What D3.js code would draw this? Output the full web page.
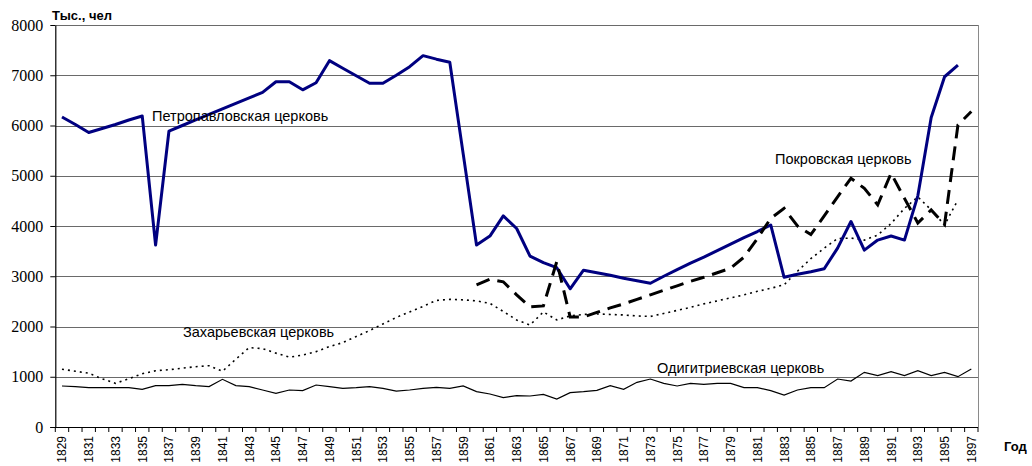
<!DOCTYPE html>
<html><head><meta charset="utf-8">
<script src="https://cdn.jsdelivr.net/npm/d3@7"></script>
<style>body{margin:0;background:#fff}svg{display:block}</style>
</head><body>
<svg id="c" width="1032" height="466"></svg>
<script>
const years = d3.range(1829, 1898);
const yTicks = [0,1000,2000,3000,4000,5000,6000,7000,8000];
const xTickLabels = years.filter(y => (y - 1829) % 2 === 0);

const petropavlovsk = [6170,6020,5860,5940,6020,6110,6190,3620,5890,6000,6110,6220,6330,6440,6550,6660,6870,6870,6710,6850,7290,7140,6990,6840,6840,7000,7170,7390,7320,7260,5440,3620,3800,4200,3950,3400,3270,3170,2750,3120,3070,3020,2960,2910,2860,3000,3130,3260,3380,3510,3640,3770,3890,4020,2980,3040,3090,3150,3560,4090,3520,3720,3800,3720,4600,6160,6970,7200,null];
const pokrovsk = [null,null,null,null,null,null,null,null,null,null,null,null,null,null,null,null,null,null,null,null,null,null,null,null,null,null,null,null,null,null,null,2830,2940,2890,2630,2390,2410,3290,2190,2190,2280,2370,2450,2540,2630,2720,2810,2900,2980,3070,3160,3380,3750,4150,4350,4000,3830,4200,4580,4950,4750,4420,5050,4550,4060,4320,4030,6010,6280];
const zakharievsk = [1150,1110,1070,960,870,960,1060,1120,1140,1170,1200,1220,1110,1350,1580,1560,1470,1390,1430,1500,1600,1680,1800,1920,2050,2180,2290,2400,2520,2540,2530,2510,2460,2300,2130,2030,2290,2130,2210,2240,2250,2240,2230,2210,2200,2260,2320,2380,2450,2510,2570,2630,2700,2760,2830,3100,3350,3560,3750,3760,3720,3820,4050,4350,4580,4320,4020,4520,null];
const odigitrievsk = [816,803,783,783,783,783,750,823,823,849,823,803,949,823,803,736,670,736,723,836,803,769,783,803,769,716,736,769,789,769,816,703,657,584,624,617,650,557,683,703,730,823,750,889,955,869,816,869,849,869,869,783,783,723,637,736,783,783,955,915,1088,1022,1101,1022,1121,1022,1088,1002,1154];

const seriesLabels = ["Петропавловская церковь","Покровская церковь","Захарьевская церковь","Одигитриевская церковь"];

const svg = d3.select("#c");
const L = 55.3, R = 978, T = 25, B = 427;
const x = d3.scaleBand().domain(years).range([L, R]).padding(0);
const y = d3.scaleLinear().domain([0, 8000]).range([B, T]);
const cx = yr => x(yr) + x.bandwidth() / 2;

// gridlines
svg.append("g").selectAll("line").data(yTicks.filter(v => v > 0)).join("line")
  .attr("x1", L).attr("x2", R).attr("y1", d => Math.round(y(d)) + 0.5).attr("y2", d => Math.round(y(d)) + 0.5)
  .attr("stroke", "#6a6a6a").attr("stroke-width", 1);
// right border
svg.append("line").attr("x1", R + 0.5).attr("x2", R + 0.5).attr("y1", y(8000)).attr("y2", B)
  .attr("stroke", "#8a8a8a").attr("stroke-width", 1);

// y axis
const gy = svg.append("g").attr("transform", `translate(${L},0)`)
  .call(d3.axisLeft(y).tickValues(yTicks).tickSize(5).tickSizeOuter(0).tickPadding(7).tickFormat(d3.format("d")));
gy.select(".domain").attr("stroke", "#000").attr("stroke-width", 1.2);
gy.selectAll(".tick line").attr("stroke", "#000");
gy.selectAll("text").attr("font-family", "'Liberation Serif','Times New Roman',serif").attr("font-size", 16).attr("fill", "#000");

// x axis
const gx = svg.append("g");
gx.append("line").attr("x1", L - 5).attr("x2", R).attr("y1", B + 0.5).attr("y2", B + 0.5).attr("stroke", "#000").attr("stroke-width", 1.2);
const bounds = years.map(yr => x(yr)).concat([x(years[years.length - 1]) + x.bandwidth()]);
gx.selectAll("line.t").data(bounds).join("line").attr("class", "t")
  .attr("x1", d => d).attr("x2", d => d).attr("y1", B).attr("y2", B + 5).attr("stroke", "#000").attr("stroke-width", 1);
gx.selectAll("text").data(xTickLabels).join("text")
  .attr("transform", d => `translate(${cx(d) + 4.5},${B + 9}) rotate(-90)`)
  .attr("text-anchor", "end").attr("font-family", "Arial, 'Liberation Sans', sans-serif").attr("font-size", 12)
  .text(d => d);

// lines
const mk = arr => d3.line().defined(d => d != null).x((d, i) => cx(years[i])).y(d => y(d))(arr);
svg.append("path").attr("d", mk(odigitrievsk)).attr("fill", "none").attr("stroke", "#000").attr("stroke-width", 1.2);
svg.append("path").attr("d", mk(zakharievsk)).attr("fill", "none").attr("stroke", "#000").attr("stroke-width", 1.6).attr("stroke-dasharray", "2,4");
svg.append("path").attr("d", mk(petropavlovsk)).attr("fill", "none").attr("stroke", "#000080").attr("stroke-width", 3).attr("stroke-linejoin", "round");
svg.append("path").attr("d", mk(pokrovsk)).attr("fill", "none").attr("stroke", "#000").attr("stroke-width", 3).attr("stroke-dasharray", "14,8");

// series labels
const labelPos = [[152, 121], [775, 164], [183, 337], [657, 373]];
svg.append("g").selectAll("text").data(seriesLabels).join("text")
  .attr("x", (d, i) => labelPos[i][0]).attr("y", (d, i) => labelPos[i][1])
  .attr("font-family", "Arial, 'Liberation Sans', sans-serif").attr("font-size", 14.5).attr("fill", "#000")
  .text(d => d);

// axis titles
svg.append("text").attr("x", 52).attr("y", 20).attr("font-family", "Arial, 'Liberation Sans', sans-serif")
  .attr("font-size", 13).attr("font-weight", "bold").text("Тыс., чел");
svg.append("text").attr("x", 1004).attr("y", 451).attr("font-family", "Arial, 'Liberation Sans', sans-serif")
  .attr("font-size", 13).attr("font-weight", "bold").text("Год");
</script>
</body></html>
